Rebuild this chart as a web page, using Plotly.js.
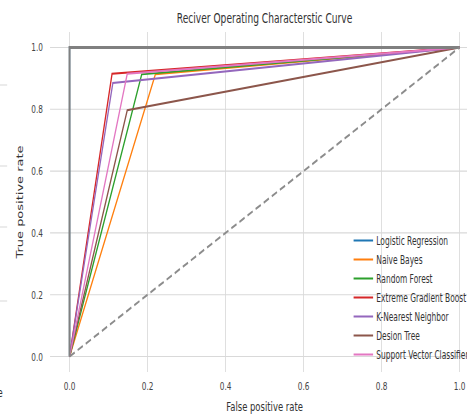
<!DOCTYPE html>
<html>
<head>
<meta charset="utf-8">
<script src="https://cdn.plot.ly/plotly-3.0.1.min.js"></script>
<style>
html,body{margin:0;padding:0;overflow:hidden;background:#fff;width:467px;height:414px;}
#chart{width:800px;height:414px;transform:scaleX(0.65);transform-origin:0 0;}
</style>
</head>
<body>
<div id="chart"></div>
<script>
// ROC data
const modelNames = ["Logistic Regression","Naive Bayes","Random Forest","Extreme Gradient Boost","K-Nearest Neighbor","Desion Tree","Support Vector Classifier"];
const fprLR  = [0, 0, 1];     const tprLR  = [0, 1, 1];
const fprNB  = [0, 0.22, 1];  const tprNB  = [0, 0.913, 1];
const fprRF  = [0, 0.185, 1]; const tprRF  = [0, 0.913, 1];
const fprXGB = [0, 0.109, 1]; const tprXGB = [0, 0.915, 1];
const fprKNN = [0, 0.111, 1]; const tprKNN = [0, 0.885, 1];
const fprDT  = [0, 0.148, 1]; const tprDT  = [0, 0.797, 1];
const fprSVC = [0, 0.148, 1]; const tprSVC = [0, 0.915, 1];
const fprPerfect = [0, 0, 1]; const tprPerfect = [0, 1, 1];
const fprChance = [0, 1];     const tprChance = [0, 1];
const tickVals = [0, 0.2, 0.4, 0.6, 0.8, 1.0];
const tickText = ["0.0","0.2","0.4","0.6","0.8","1.0"];

const colors = ["#1f77b4","#ff7f0e","#2ca02c","#d62728","#9467bd","#8c564b","#e377c2"];
const xs = [fprLR,fprNB,fprRF,fprXGB,fprKNN,fprDT,fprSVC];
const ys = [tprLR,tprNB,tprRF,tprXGB,tprKNN,tprDT,tprSVC];

const fam = "DejaVu Sans, sans-serif";
const traces = modelNames.map((n,i)=>({
  x: xs[i], y: ys[i], type:"scatter", mode:"lines", name:n,
  line:{color:colors[i], width:2}
}));
traces.push({x:fprPerfect, y:tprPerfect, type:"scatter", mode:"lines", showlegend:false,
  line:{color:"#808080", width:3}});
traces.push({x:fprChance, y:tprChance, type:"scatter", mode:"lines", showlegend:false,
  line:{color:"#8c8c8c", width:2.2, dash:"9px,5px"}});

const gridC = "#d9d9d9";
const W = 800, L = 77, PW = 660, T = 32, PH = 340;
const layout = {
  width:W, height:414,
  margin:{l:L, r:W-L-PW, t:T, b:414-T-PH},
  paper_bgcolor:"#fff", plot_bgcolor:"#fff",
  font:{family:fam, size:11.3, color:"#444"},
  title:{text:"Reciver Operating Characterstic Curve", x:0.5, xref:"paper", y:0.956, yanchor:"middle",
    font:{family:fam, size:14, color:"#333"}},
  xaxis:{range:[-0.05,1.05], tickvals:tickVals, ticktext:tickText, showgrid:true, gridcolor:gridC, gridwidth:1.3,
    zeroline:false, showline:false, ticks:"", ticklabelstandoff:6,
    tickfont:{family:fam, size:11.3, color:"#444"},
    title:{text:"False positive rate", standoff:11, font:{family:fam, size:13, color:"#333"}}},
  yaxis:{range:[-0.05,1.05], tickvals:tickVals, ticktext:tickText, showgrid:true, gridcolor:gridC, gridwidth:1.1,
    zeroline:false, showline:false, ticks:"", ticklabelstandoff:10,
    tickfont:{family:fam, size:11.3, color:"#444"},
    title:{text:"True positive rate", standoff:8, font:{family:fam, size:13, color:"#333"}}},
  legend:{x:(539-L)/PW, xanchor:"left", y:(T+PH-369)/PH, yanchor:"bottom", bgcolor:"rgba(255,255,255,0)",
    font:{family:fam, size:11.5, color:"#333"}, itemwidth:30, tracegroupgap:0},
  shapes:[85,166,227,301].map(py=>({type:"line", xref:"paper", yref:"paper",
    x0:-L/PW, x1:(11-L)/PW, y0:(T+PH-py)/PH, y1:(T+PH-py)/PH, line:{color:"#cfcfcf", width:1}})),
  annotations:[{text:"e", xref:"paper", yref:"paper", x:(6-L)/PW, y:(T+PH-392)/PH, xanchor:"right", yanchor:"middle",
    showarrow:false, font:{family:fam, size:13, color:"#333"}}]
};
Plotly.newPlot("chart", traces, layout, {displayModeBar:false, staticPlot:true});
</script>
</body>
</html>
